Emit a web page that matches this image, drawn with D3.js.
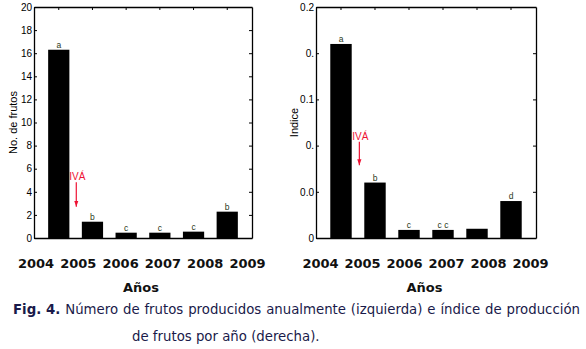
<!DOCTYPE html>
<html><head><meta charset="utf-8">
<script src="https://cdn.jsdelivr.net/npm/d3@7"></script>
<style>body{margin:0;background:#fff}svg{display:block}</style>
</head><body>
<svg id="c" width="586" height="349"></svg>
<script>
const years = ["2004","2005","2006","2007","2008","2009"];
const frutos = [16.3, 1.41, 0.46, 0.46, 0.55, 2.28];
const frutosLetters = ["a","b","c","c","c","b"];
const frutosTicks = [0,2,4,6,8,10,12,14,16,18,20];
const indice = [0.168, 0.048, 0.007, 0.007, 0.008, 0.032];
const indiceLetters = ["a","b","c","c c","","d"];
const indiceTicks = [0,0.04,0.08,0.12,0.16,0.2];
const indiceTickLabels = ["0","0.0","0.","0.1","0.","0.2"];
// annotation "IVÁ": offset in bar steps from 2004, text value, arrow tip value
const ivaFrutos = [0.52, 5.0, 2.7];
const ivaIndice = [0.54, 0.085, 0.063];
const captionLine1 = [["Fig.",true],["4.",true],["Número",false],["de",false],["frutos",false],["producidos",false],["anualmente",false],["(izquierda)",false],["e",false],["índice",false],["de",false],["producción",false]];
const captionLine2 = "de frutos por año (derecha).";

const svg = d3.select("#c");
const defs = svg.append("defs");
defs.append("marker").attr("id","ah").attr("viewBox","0 0 10 10").attr("refX",10).attr("refY",5)
  .attr("markerWidth",5).attr("markerHeight",6).attr("orient","auto")
  .append("path").attr("d","M0,1.5L10,5L0,8.5Z").attr("fill","#ee1133");

function panel(o){
  const g = svg.append("g");
  const x = d3.scaleBand().domain(years).range([o.x0,o.x1]).paddingInner(0.37).paddingOuter(0.42);
  const y = d3.scaleLinear().domain([0,o.max]).range([o.y1,o.y0]);
  g.selectAll("rect.bar").data(o.values).join("rect")
    .attr("x",(d,i)=>x(years[i])).attr("width",x.bandwidth())
    .attr("y",d=>y(d)).attr("height",d=>y(0)-y(d)).attr("fill","#000");
  g.selectAll("text.lt").data(o.letters).join("text")
    .attr("x",(d,i)=>x(years[i])+x.bandwidth()/2).attr("y",(d,i)=>y(o.values[i])-2)
    .attr("text-anchor","middle").attr("font-family","Liberation Sans, Arial, sans-serif")
    .attr("font-size",8.5).attr("fill","#2b3a1a").text(d=>d);
  const axL = d3.axisLeft(y).tickValues(o.ticks).tickSizeInner(-3).tickSizeOuter(0).tickPadding(2)
    .tickFormat((d,i)=>o.tickLabels[i]);
  const gl = g.append("g").attr("transform",`translate(${o.x0},0)`).call(axL);
  gl.selectAll("text").attr("font-family","Liberation Sans, Arial, sans-serif").attr("font-size",10).attr("fill","#000");
  const axR = d3.axisRight(y).tickValues(o.ticks).tickSizeInner(-3).tickSizeOuter(0).tickFormat("");
  g.append("g").attr("transform",`translate(${o.x1},0)`).call(axR);
  const axT = d3.axisTop(x).tickSizeInner(-3).tickSizeOuter(0).tickFormat("");
  g.append("g").attr("transform",`translate(0,${o.y0})`).call(axT);
  const axB = d3.axisBottom(x).tickSize(0).tickFormat("");
  g.append("g").attr("transform",`translate(0,${o.y1})`).call(axB);
  g.selectAll(".domain").attr("stroke","#000").attr("stroke-width",1.3);
  g.selectAll(".tick line").attr("stroke","#000");
  g.append("text").attr("transform",`translate(${o.ylx},${(o.y0+o.y1)/2}) rotate(-90)`)
    .attr("text-anchor","middle").attr("font-family","Liberation Sans, Arial, sans-serif")
    .attr("font-size",11).attr("fill","#000").text(o.ylabel);
  const ax = x(years[0])+x.bandwidth()/2 + o.iva[0]*x.step();
  g.append("text").attr("x",ax+1).attr("y",y(o.iva[1])).attr("text-anchor","middle")
    .attr("font-family","Liberation Sans, Arial, sans-serif").attr("font-size",10)
    .attr("fill","#ee1133").text("IVÁ");
  g.append("line").attr("x1",ax).attr("x2",ax).attr("y1",y(o.iva[1])+2).attr("y2",y(o.iva[2]))
    .attr("stroke","#ee1133").attr("stroke-width",1.2).attr("marker-end","url(#ah)");
  const xl = d3.scalePoint().domain(years).range(o.yearRange);
  g.selectAll("text.yr").data(years).join("text").attr("x",d=>xl(d)).attr("y",268)
    .attr("text-anchor","middle").attr("font-family","DejaVu Sans, Verdana, sans-serif")
    .attr("font-weight","bold").attr("font-size",13).attr("fill","#111").text(d=>d);
  g.append("text").attr("x",o.anosX).attr("y",292).attr("text-anchor","middle")
    .attr("font-family","DejaVu Sans, Verdana, sans-serif").attr("font-weight","bold")
    .attr("font-size",13).attr("fill","#111").text("Años");
}

panel({x0:34,x1:252,y0:7,y1:238,max:20,values:frutos,letters:frutosLetters,ticks:frutosTicks,
  tickLabels:frutosTicks.map(String),ylabel:"No. de frutos",ylx:17,iva:ivaFrutos,
  yearRange:[36,247.5],anosX:141});
panel({x0:316,x1:536,y0:7,y1:238,max:0.2,values:indice,letters:indiceLetters,ticks:indiceTicks,
  tickLabels:indiceTickLabels,ylabel:"Indice",ylx:298,iva:ivaIndice,
  yearRange:[320.5,530.5],anosX:424.5});

const cap = svg.append("g").attr("font-family","DejaVu Sans, Verdana, sans-serif").attr("font-size",13.3).attr("fill","#1a1a4a");
const widths = captionLine1.map(([w,b])=>{
  const t = cap.append("text").attr("font-weight",b?"bold":"normal").text(w);
  const l = t.node().getComputedTextLength(); t.remove(); return l;
});
const cx0 = 13, cx1 = 580;
const gap = (cx1-cx0-d3.sum(widths))/(captionLine1.length-1);
let cx = cx0;
captionLine1.forEach(([w,b],i)=>{
  cap.append("text").attr("x",cx).attr("y",314).attr("font-weight",b?"bold":"normal").text(w);
  cx += widths[i]+gap;
});
cap.append("text").attr("x",132).attr("y",341).text(captionLine2);
</script>
</body></html>
